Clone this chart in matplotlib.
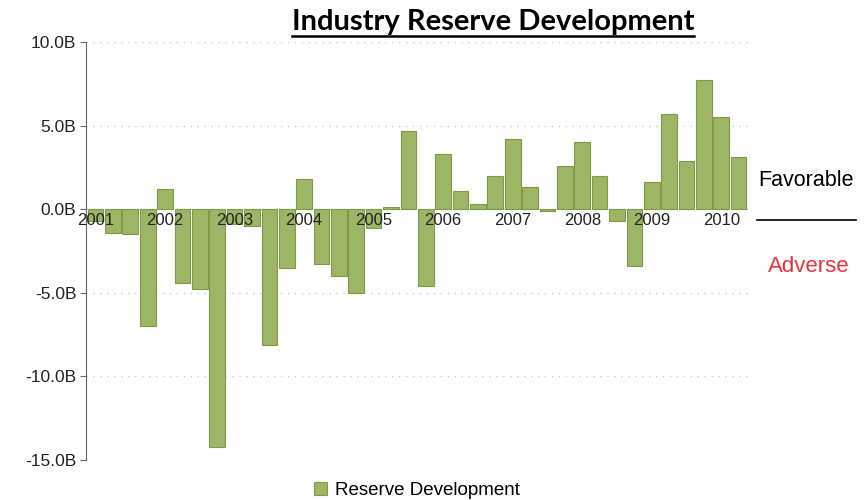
import numpy as np
import matplotlib
matplotlib.use("Agg")
import matplotlib.pyplot as plt
from matplotlib.lines import Line2D
from matplotlib.ticker import FuncFormatter

# quarterly reserve development, 2001 Q1 .. 2010 Q2 (billions)
years = ["2001", "2002", "2003", "2004", "2005", "2006", "2007", "2008", "2009", "2010"]
reserve_dev = [-0.7, -1.4, -1.5, -7.0,
               1.2, -4.4, -4.8, -14.2,
               -0.9, -1.0, -8.1, -3.5,
               1.8, -3.3, -4.0, -5.0,
               -1.1, 0.15, 4.7, -4.6,
               3.3, 1.1, 0.3, 2.0,
               4.2, 1.3, -0.1, 2.6,
               4.0, 2.0, -0.7, -3.4,
               1.6, 5.7, 2.9, 7.7,
               5.5, 3.1]
yticks = [10, 5, 0, -5, -10, -15]

plt.rcParams['font.family'] = ['Liberation Sans', 'DejaVu Sans']

fig = plt.figure(figsize=(8.65, 5.0), dpi=100)
ax = fig.add_axes([0.0994, 0.08, 0.7656, 0.836])

x = np.arange(len(reserve_dev))
ax.bar(x, reserve_dev, width=0.9, color='#9db665', edgecolor='#7d9a48',
       linewidth=0.8, label='Reserve Development', zorder=3)

ax.set_xlim(-0.55, len(reserve_dev) - 0.45)
ax.set_ylim(-15, 10)
ax.set_yticks(yticks)
ax.yaxis.set_major_formatter(FuncFormatter(lambda v, p: f"{v:.1f}B"))
ax.tick_params(axis='y', labelsize=12.5, colors='#666666', length=4, width=0.8,
               labelcolor='#222222', pad=3)
ax.grid(axis='y', color='#cccccc', linestyle=(0, (1, 4)), linewidth=1.0)

# year labels sit on the zero line, over the bars
ax.spines['bottom'].set_position(('data', 0))
ax.spines['bottom'].set_visible(False)
ax.spines['top'].set_visible(False)
ax.spines['right'].set_visible(False)
ax.spines['left'].set_color('#666666')
ax.set_xticks(x[::4])
ax.set_xticklabels(years)
ax.tick_params(axis='x', length=0, labelsize=12, pad=3, labelcolor='#222222')
ax.xaxis.set_zorder(4)
ax.yaxis.set_zorder(1)

ax.legend(loc='center', bbox_to_anchor=(0.5, -0.072), frameon=False,
          fontsize=13.5, handlelength=0.7, handleheight=0.7, handletextpad=0.4,
          borderpad=0)

title = fig.text(0.570, 0.956, "Industry Reserve Development", ha='center',
                 va='center', fontsize=21, fontweight='bold',
                 family=['Lato', 'DejaVu Sans'])

fig.text(0.932, 0.64, "Favorable", ha='center', va='center', fontsize=15.5)
fig.text(0.935, 0.467, "Adverse", ha='center', va='center', fontsize=16,
         color='#e8323c')
fig.add_artist(Line2D([0.875, 0.99], [0.56, 0.56], color='black', linewidth=1.2))

# underline the title
fig.canvas.draw()
bb = title.get_window_extent().transformed(fig.transFigure.inverted())
fig.add_artist(Line2D([bb.x0, bb.x1], [bb.y0 - 0.002, bb.y0 - 0.002],
                      color='black', linewidth=1.8))

fig.savefig("out.png", dpi=100)
